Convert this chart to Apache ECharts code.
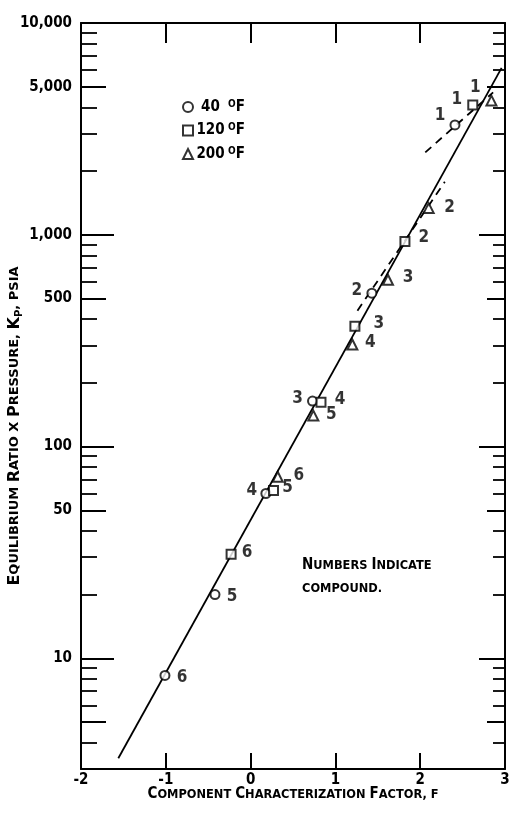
<!DOCTYPE html>
<html><head><meta charset="utf-8">
<script src="https://cdn.jsdelivr.net/npm/echarts@6/dist/echarts.min.js"></script>
<style>html,body{margin:0;padding:0;background:#fff}#c{width:510px;height:813px}</style>
</head><body><div id="c"></div>
<script>
// ---- data ----
const compounds = ['1','2','3','4','5','6'];
const F40  = [2.41, 1.43, 0.73, 0.18, -0.42, -1.01];
const K40  = [3300, 530, 164, 60, 20, 8.3];
const F120 = [2.62, 1.82, 1.23, 0.83, 0.27, -0.23];
const K120 = [4100, 930, 370, 162, 62, 31];
const F200 = [2.84, 2.10, 1.62, 1.20, 0.74, 0.32];
const K200 = [4300, 1336, 613, 303, 140, 72];
const lineF = [-1.56, 2.96];
const lineK = [3.37, 6140];
const dashAF = [2.06, 2.86];
const dashAK = [2450, 4700];
const dashBF = [1.26, 2.29];
const dashBK = [438, 1778];
const xTicks = [-2, -1, 0, 1, 2, 3];
const yLabels = [10, 50, 100, 500, 1000, 5000, 10000];
const majorTicks = [10, 100, 1000, 10000];
const halfTicks = [5, 50, 500, 5000];
const minorTicks = [4,6,7,8,9,20,30,40,60,70,80,90,200,300,400,600,700,800,900,2000,3000,4000,6000,7000,8000,9000];

// ---- style: label offsets (px) ----
const off40  = [[-15,-9],[-15,-3],[-15,-2],[-14,-3],[17,2],[17,2]];
const off120 = [[-16,-5],[19,-4],[24,-3],[19,-3],[14,-3],[16,-2]];
const off200 = [[-16,-13],[21,-1],[20,-2],[18,-2],[18,-1],[21,-1]];

const FONT = "'DejaVu Sans Condensed','DejaVu Sans',sans-serif";
const FONTW = "'DejaVu Sans',sans-serif";
const chart = echarts.init(document.getElementById('c'), null, {renderer: 'canvas'});

function pts(F, K, offs) {
  return F.map((f, i) => ({ value: [f, K[i]], name: compounds[i], label: { offset: offs[i] } }));
}
function pair(F, K) { return F.map((f, i) => [f, K[i]]); }
function fmt(v) { return String(v).replace(/\B(?=(\d{3})+(?!\d))/g, ','); }

function yAx(opt) {
  return Object.assign({
    type: 'log', logBase: 10, min: 3, max: 10000, position: 'left',
    axisLine: { show: false, onZero: false }, splitLine: { show: false },
    axisLabel: { show: false }, axisTick: { show: false }
  }, opt);
}

const labelStyle = {
  show: true, position: 'inside', formatter: p => p.name,
  fontFamily: FONT, fontWeight: 'bold', fontSize: 17, color: '#000',
  align: 'center', verticalAlign: 'middle'
};
const scatterBase = {
  type: 'scatter', xAxisIndex: 0, yAxisIndex: 0, z: 5,
  itemStyle: { color: '#000', borderColor: '#000', borderWidth: 1.8 },
  label: labelStyle, emphasis: { disabled: true }
};
const legendRich = {
  n: { fontFamily: FONT, fontWeight: 'bold', fontSize: 15, color: '#000', width: 25, align: 'right', lineHeight: 16 },
  s: { fontFamily: FONT, fontWeight: 'bold', fontSize: 10, color: '#000', verticalAlign: 'top', lineHeight: 16, padding: [0, 0, 0, 5] },
  f: { fontFamily: FONT, fontWeight: 'bold', fontSize: 15, color: '#000', lineHeight: 16 }
};
const cap = (sz, fam) => ({ fontFamily: fam || FONT, fontWeight: 'bold', fontSize: sz, color: '#000' });

chart.setOption({
  animation: false,
  backgroundColor: '#fff',
  grid: { left: 81, right: 5, top: 23, bottom: 44, containLabel: false, outerBoundsMode: 'none' },
  legend: {
    orient: 'vertical', left: 177, top: 94, itemWidth: 10, itemHeight: 10,
    itemGap: 8, itemTextGap: 3, selectedMode: false,
    data: ['40', '120', '200'],
    formatter: name => '{n|' + name + '}{s|O}{f|F}',
    textStyle: { rich: legendRich }
  },
  xAxis: [{
    type: 'value', min: -2, max: 3, interval: 1, position: 'bottom',
    axisLine: { onZero: false, lineStyle: { color: '#000', width: 2 } },
    axisTick: { inside: true, length: 16, lineStyle: { color: '#000', width: 2 } },
    splitLine: { show: false },
    axisLabel: { margin: 4, fontFamily: FONT, fontWeight: 'bold', fontSize: 15, color: '#000',
      customValues: xTicks },
    name: '{a|C}{b|OMPONENT }{a|C}{b|HARACTERIZATION }{a|F}{b|ACTOR, F}',
    nameLocation: 'middle', nameGap: 18, nameMoveOverlap: false,
    nameTextStyle: { rich: { a: cap(15), b: cap(12.7) } }
  }, {
    type: 'value', min: -2, max: 3, interval: 1, position: 'top',
    axisLine: { onZero: false, lineStyle: { color: '#000', width: 2 } },
    axisTick: { inside: true, length: 20, lineStyle: { color: '#000', width: 2 } },
    axisLabel: { show: false }, splitLine: { show: false }
  }],
  yAxis: [
    yAx({
      axisLine: { show: true, onZero: false, lineStyle: { color: '#000', width: 2 } },
      axisTick: { show: true, inside: true, length: 33, customValues: majorTicks, lineStyle: { color: '#000', width: 2 } },
      axisLabel: { show: true, margin: 9, customValues: yLabels, formatter: v => fmt(v),
        fontFamily: FONT, fontWeight: 'bold', fontSize: 15, color: '#000' },
      name: '{a|E}{b|QUILIBRIUM }{a|R}{b|ATIO X }{a|P}{b|RESSURE, }{a|K}{c|P}{b|, PSIA}',
      nameLocation: 'middle', nameGap: 57, nameRotate: 90, nameMoveOverlap: false,
      nameTextStyle: { padding: [0, 60, 0, 0], rich: { a: cap(16, FONTW), b: cap(13, FONTW), c: Object.assign(cap(10, FONTW), { verticalAlign: 'bottom', lineHeight: 18 }) } }
    }),
    yAx({ axisTick: { show: true, inside: true, length: 25, customValues: halfTicks, lineStyle: { color: '#000', width: 2 } } }),
    yAx({ axisTick: { show: true, inside: true, length: 16, customValues: minorTicks, lineStyle: { color: '#000', width: 1.8 } } }),
    yAx({ position: 'right',
      axisLine: { show: true, onZero: false, lineStyle: { color: '#000', width: 2 } },
      axisTick: { show: true, inside: true, length: 26, customValues: majorTicks, lineStyle: { color: '#000', width: 2 } } }),
    yAx({ position: 'right', axisTick: { show: true, inside: true, length: 18, customValues: halfTicks, lineStyle: { color: '#000', width: 2 } } }),
    yAx({ position: 'right', axisTick: { show: true, inside: true, length: 12, customValues: minorTicks, lineStyle: { color: '#000', width: 1.8 } } })
  ],
  series: [
    { type: 'line', name: 'corr', data: pair(lineF, lineK), symbol: 'none', z: 2,
      lineStyle: { color: '#000', width: 1.8 }, silent: true },
    { type: 'line', name: 'dashA', data: pair(dashAF, dashAK), symbol: 'none', z: 2,
      lineStyle: { color: '#000', width: 1.8, type: [8, 6] }, silent: true },
    { type: 'line', name: 'dashB', data: pair(dashBF, dashBK), symbol: 'none', z: 2,
      lineStyle: { color: '#000', width: 1.8, type: [8, 6] }, silent: true },
    Object.assign({}, scatterBase, { name: '40', symbol: 'emptyCircle', symbolSize: 9, data: pts(F40, K40, off40) }),
    Object.assign({}, scatterBase, { name: '120', symbol: 'emptyRect', symbolSize: 9, data: pts(F120, K120, off120) }),
    Object.assign({}, scatterBase, { name: '200', symbol: 'emptyTriangle', symbolSize: 10, data: pts(F200, K200, off200) })
  ],
  graphic: [{
    type: 'text', left: 302, top: 558, silent: true,
    style: {
      text: '{a|N}{b|UMBERS }{a|I}{b|NDICATE}\n{b|COMPOUND.}',
      rich: { a: Object.assign(cap(15), { lineHeight: 23 }), b: Object.assign(cap(12.7), { lineHeight: 23 }) }
    }
  }]
});
</script></body></html>
